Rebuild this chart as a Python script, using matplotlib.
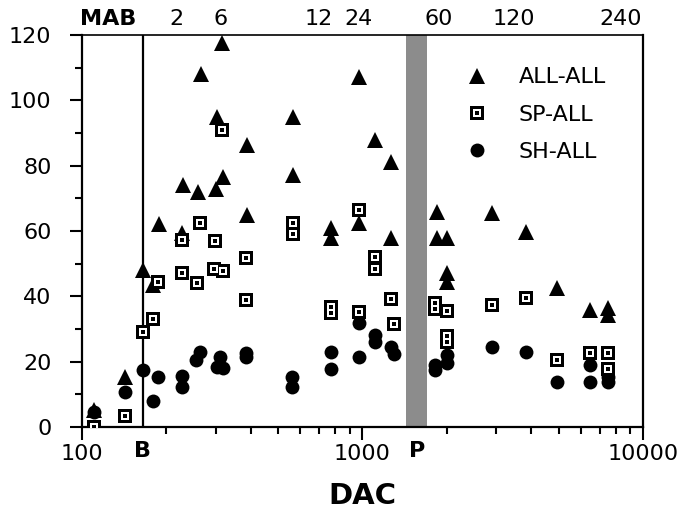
import matplotlib
matplotlib.use('Agg')
import matplotlib.pyplot as plt
from matplotlib.lines import Line2D
from matplotlib.legend_handler import HandlerTuple
from matplotlib.ticker import FixedLocator, NullFormatter
import matplotlib.transforms as mtransforms

# ---------------- data (DAC on x, value on y) ----------------
all_x = [110, 142, 165, 179, 188, 227, 229, 259, 266, 300, 302, 316, 318, 387, 387,
         565, 565, 772, 772, 971, 971, 1108, 1264, 1264, 1838, 1838, 2001, 2001, 2001,
         2895, 3828, 4935, 6471, 7504, 7504]
all_y = [5.2, 15.3, 48, 43.5, 62, 59.5, 74, 72, 108, 73, 95, 117.5, 76.5, 86.3, 65,
         95, 77, 61, 58, 107, 62.5, 88, 81, 57.8, 65.8, 57.8, 57.8, 47, 44.4,
         65.5, 59.7, 42.5, 35.8, 36.4, 34.3]

sp_x = [110, 142, 165, 179, 187, 227, 227, 257, 263, 298, 296, 316, 318, 385, 385,
        565, 565, 772, 772, 971, 971, 1108, 1108, 1264, 1295, 1814, 1814, 2001, 2001, 2001,
        2895, 3828, 4935, 6471, 7504, 7504]
sp_y = [0, 3.4, 29, 33, 44.4, 57.2, 47, 44, 62.5, 57, 48.4, 91, 47.8, 51.8, 38.9,
        62.5, 59, 36.7, 35, 66.4, 35.2, 52, 48.4, 39.2, 31.5, 38, 36, 35.5, 28, 26,
        37.3, 39.5, 20.5, 22.6, 22.6, 17.7]

sh_x = [110, 142, 165, 179, 187, 227, 227, 255, 263, 303, 310, 318, 385, 385,
        560, 560, 772, 772, 971, 971, 1108, 1108, 1264, 1295, 1814, 1814, 2001, 2001,
        2895, 3828, 4935, 6471, 6471, 7504, 7504]
sh_y = [4.5, 10.7, 17.5, 8, 15.3, 15.6, 12.3, 20.5, 23, 18.4, 21.4, 18, 22.6, 21.5,
        15.3, 12.3, 23, 17.7, 31.8, 21.4, 28.2, 26, 24.5, 22.3, 19, 17.5, 22, 19.6,
        24.5, 23, 13.8, 19, 13.8, 15.3, 13.8]

series_labels = ['ALL-ALL', 'SP-ALL', 'SH-ALL']

birth_dac = 165
puberty_band = (1430, 1700)
puberty_label_dac = 1563
x_major = [100, 1000, 10000]
x_major_labels = ['100', '1000', '10000']
y_major = [0, 20, 40, 60, 80, 100, 120]
top_tick_dac = [124, 218, 313, 700, 964, 1875, 3467, 8318]
top_tick_labels = ['MAB', '2', '6', '12', '24', '60', '120', '240']
x_label = 'DAC'

# ---------------- figure ----------------
plt.rcParams['font.family'] = ['DejaVu Sans']
fig = plt.figure(figsize=(6.96, 5.18), dpi=100)
ax = fig.add_axes([0.1178, 0.1757, 0.8060, 0.7567])
ax.set_xscale('log')
ax.set_xlim(100, 10000)
ax.set_ylim(0, 120)

ax.axvspan(*puberty_band, color='#8c8c8c', lw=0, zorder=1)
ax.axvline(birth_dac, color='black', lw=1.6, zorder=2)

tri_kw = dict(ls='none', marker='^', ms=11.5, color='black', mec='black', mew=0)
cir_kw = dict(ls='none', marker='o', ms=10, color='black', mec='black', mew=0)
sq_outer = dict(ls='none', marker='s', ms=9.5, color='black', mew=0)
sq_inner = dict(ls='none', marker='s', ms=5.5, color='white', mew=0)
sq_dot = dict(ls='none', marker='s', ms=2.2, color='black', mew=0)

ax.plot(all_x, all_y, zorder=3, **tri_kw)
ax.plot(sh_x, sh_y, zorder=4, **cir_kw)
ax.plot(sp_x, sp_y, zorder=5, **sq_outer)
ax.plot(sp_x, sp_y, zorder=6, **sq_inner)
ax.plot(sp_x, sp_y, zorder=7, **sq_dot)

# ticks
ax.xaxis.set_major_locator(FixedLocator(x_major))
ax.set_xticklabels(x_major_labels)
minors = [m * d for d in (100, 1000) for m in range(2, 10)]
ax.xaxis.set_minor_locator(FixedLocator(minors))
ax.xaxis.set_minor_formatter(NullFormatter())
ax.set_yticks(y_major)
ax.yaxis.set_minor_locator(FixedLocator([10, 30, 50, 70, 90, 110]))
ax.tick_params(axis='both', which='major', direction='out', length=9, width=1.5,
               labelsize=16, color='black')
ax.tick_params(axis='both', which='minor', direction='out', length=5, width=1.5)
ax.tick_params(axis='y', which='major', pad=13)
ax.tick_params(axis='x', which='major', pad=3)

for s in ax.spines.values():
    s.set_linewidth(1.6)
ax.spines['top'].set_linewidth(1.2)

# B and P labels under the axis
trans = mtransforms.blended_transform_factory(ax.transData, ax.transAxes)
ax.text(birth_dac, -0.035, 'B', transform=trans, ha='center', va='top',
        fontsize=16, fontweight='bold')
ax.text(puberty_label_dac, -0.035, 'P', transform=trans, ha='center', va='top',
        fontsize=16, fontweight='bold')

ax.set_xlabel(x_label, fontsize=21, fontweight='bold', labelpad=13)

# top labels (age)
top = ax.secondary_xaxis('top')
top.set_xticks(top_tick_dac)
top.set_xticklabels(top_tick_labels)
top.xaxis.set_minor_locator(FixedLocator([]))
top.tick_params(axis='x', which='both', length=0, labelsize=16, pad=4)
top.spines['top'].set_visible(False)
for lab in top.get_xticklabels():
    if lab.get_text() == 'MAB':
        lab.set_fontweight('bold')

# legend
h_tri = Line2D([], [], **tri_kw)
h_sq = (Line2D([], [], **sq_outer), Line2D([], [], **sq_inner), Line2D([], [], **sq_dot))
h_cir = Line2D([], [], **cir_kw)
leg = ax.legend([h_tri, h_sq, h_cir], series_labels,
                handler_map={tuple: HandlerTuple(ndivide=1, pad=0)},
                loc='upper left', bbox_to_anchor=(0.668, 0.94), frameon=False,
                fontsize=16, handlelength=1.0, handletextpad=1.4, labelspacing=0.78,
                borderaxespad=0)

fig.savefig('out.png', dpi=100)
